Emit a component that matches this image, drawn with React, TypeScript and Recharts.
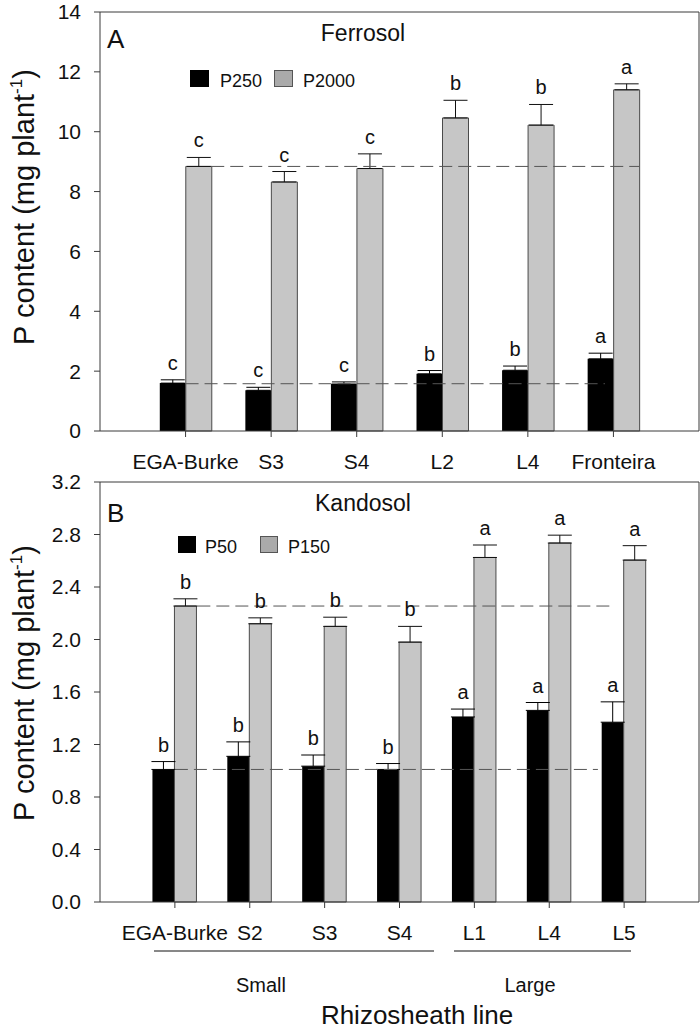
import React from 'react';
import { BarChart, Bar, XAxis, YAxis, ErrorBar, LabelList, ReferenceLine } from 'recharts';

const FONT = "'Liberation Sans', Arial, sans-serif";

// Panel A - Ferrosol
const ferrosolLines = ['EGA-Burke', 'S3', 'S4', 'L2', 'L4', 'Fronteira'];
const p250 = [1.6, 1.36, 1.57, 1.91, 2.03, 2.41];
const p250Err = [0.11, 0.1, 0.07, 0.11, 0.14, 0.19];
const p250Letters = ['c', 'c', 'c', 'b', 'b', 'a'];
const p2000 = [8.84, 8.32, 8.77, 10.46, 10.22, 11.4];
const p2000Err = [0.3, 0.35, 0.49, 0.59, 0.69, 0.2];
const p2000Letters = ['c', 'c', 'c', 'b', 'b', 'a'];
const ferrosolTicks = [0, 2, 4, 6, 8, 10, 12, 14];

// Panel B - Kandosol
const kandosolLines = ['EGA-Burke', 'S2', 'S3', 'S4', 'L1', 'L4', 'L5'];
const p50 = [1.01, 1.11, 1.035, 1.01, 1.41, 1.46, 1.37];
const p50Err = [0.06, 0.11, 0.085, 0.045, 0.06, 0.06, 0.155];
const p50Letters = ['b', 'b', 'b', 'b', 'a', 'a', 'a'];
const p150 = [2.255, 2.12, 2.1, 1.98, 2.625, 2.735, 2.605];
const p150Err = [0.055, 0.045, 0.07, 0.12, 0.095, 0.06, 0.11];
const p150Letters = ['b', 'b', 'b', 'b', 'a', 'a', 'a'];
const kandosolTicks = [0, 0.4, 0.8, 1.2, 1.6, 2.0, 2.4, 2.8, 3.2];

// dashed control lines (EGA-Burke level); x in category-position units
const ferrosolDashes = [
  { y: 8.84, from: 1.3, to: 6.3 },
  { y: 1.58, from: 1.0, to: 5.9 },
];
const kandosolDashes = [
  { y: 2.255, from: 1.3, to: 6.83 },
  { y: 1.01, from: 1.0, to: 6.65 },
];

const build = (lines: string[], low: number[], lowErr: number[], high: number[], highErr: number[]) =>
  lines.map((line, i) => ({
    pos: i + 1,
    line,
    low: low[i],
    lowErr: [0, lowErr[i]],
    high: high[i],
    highErr: [0, highErr[i]],
  }));

const ferrosolData = build(ferrosolLines, p250, p250Err, p2000, p2000Err);
const kandosolData = build(kandosolLines, p50, p50Err, p150, p150Err);

const letterLabel = (errs: number[], letters: string[]) => (props: any) => {
  const { x, y, width, height, value, index } = props;
  const v = Array.isArray(value) ? value[1] : Number(value);
  const perUnit = Number(height) / v;
  const top = Number(y) - errs[index] * perUnit;
  return (
    <text x={Number(x) + Number(width) / 2} y={top - 10} textAnchor="middle" fontSize={20} fontFamily={FONT} fill="#111">
      {letters[index]}
    </text>
  );
};

const axisStroke = '#3a3a3a';

function Panel({ data, lines, ticks, domainMax, barSize, dashes, lowErrs, highErrs, lowLetters, highLetters, fmt, xHeight, height, top }: any) {
  const n = lines.length;
  const xTicks = lines.map((_: string, i: number) => i + 1);
  return (
    <BarChart
      width={700}
      height={height}
      data={data}
      margin={{ top, right: 1, left: 0, bottom: 0 }}
      barGap={0}
      style={{ position: 'absolute', left: 0, top: 0 }}
    >
      <XAxis
        dataKey="pos"
        type="number"
        domain={[0, n + 1]}
        ticks={xTicks}
        interval={0}
        allowDataOverflow
        tickFormatter={(v: number) => lines[v - 1]}
        height={xHeight}
        tickSize={6}
        tickMargin={17}
        stroke={axisStroke}
        tick={{ fontSize: 21, fontFamily: FONT, fill: '#111' }}
      />
      <YAxis
        width={100}
        domain={[0, domainMax]}
        ticks={ticks}
        interval={0}
        tickSize={6}
        tickMargin={13}
        stroke={axisStroke}
        tickFormatter={fmt}
        tick={{ fontSize: 21, fontFamily: FONT, fill: '#111' }}
      />
      <ReferenceLine y={domainMax} stroke={axisStroke} />
      <ReferenceLine x={n + 1} stroke={axisStroke} />
      <Bar dataKey="low" fill="#000" barSize={barSize} isAnimationActive={false}>
        <ErrorBar dataKey="lowErr" width={12} stroke="#000" strokeWidth={1} direction="y" />
        <LabelList dataKey="low" content={letterLabel(lowErrs, lowLetters)} />
      </Bar>
      <Bar dataKey="high" fill="#c6c6c6" stroke="#4a4a4a" strokeWidth={1} barSize={barSize} isAnimationActive={false}>
        <ErrorBar dataKey="highErr" width={12} stroke="#111" strokeWidth={1} direction="y" />
        <LabelList dataKey="high" content={letterLabel(highErrs, highLetters)} />
      </Bar>
      {dashes.map((d: any, i: number) => (
        <ReferenceLine
          key={i}
          segment={[{ x: d.from, y: d.y }, { x: d.to, y: d.y }]}
          stroke="#555"
          strokeDasharray="13 6"
          ifOverflow="visible"
        />
      ))}
    </BarChart>
  );
}

function YLabel({ cy }: { cy: number }) {
  return (
    <text
      x={34}
      y={cy}
      transform={`rotate(-90 34 ${cy})`}
      textAnchor="middle"
      fontSize={29}
      fontFamily={FONT}
      fill="#111"
    >
      P content (mg plant
      <tspan fontSize={17} dy={-12}>-1</tspan>
      <tspan dy={12}>)</tspan>
    </text>
  );
}

export default function App() {
  return (
    <div style={{ position: 'absolute', left: 0, top: 0, width: 700, height: 1032, background: '#fff' }}>
      <div style={{ position: 'absolute', left: 0, top: 0, width: 700, height: 480 }}>
        <Panel
          data={ferrosolData}
          lines={ferrosolLines}
          ticks={ferrosolTicks}
          domainMax={14}
          barSize={26}
          dashes={ferrosolDashes}
          lowErrs={p250Err}
          highErrs={p2000Err}
          lowLetters={p250Letters}
          highLetters={p2000Letters}
          fmt={(v: number) => String(v)}
          xHeight={49}
          height={480}
          top={12}
        />
      </div>
      <div style={{ position: 'absolute', left: 0, top: 440, width: 700, height: 592 }}>
        <Panel
          data={kandosolData}
          lines={kandosolLines}
          ticks={kandosolTicks}
          domainMax={3.2}
          barSize={22}
          dashes={kandosolDashes}
          lowErrs={p50Err}
          highErrs={p150Err}
          lowLetters={p50Letters}
          highLetters={p150Letters}
          fmt={(v: number) => v.toFixed(1)}
          xHeight={130}
          height={592}
          top={42}
        />
      </div>
      <svg width={700} height={1032} style={{ position: 'absolute', left: 0, top: 0, pointerEvents: 'none' }}>
        <YLabel cy={207} />
        <YLabel cy={683} />
        <text x={363} y={41} textAnchor="middle" fontSize={23} fontFamily={FONT} fill="#111">Ferrosol</text>
        <text x={107} y={48} fontSize={26} fontFamily={FONT} fill="#111">A</text>
        <rect x={190} y={70} width={19} height={17} fill="#000" />
        <text x={220} y={87} fontSize={18} fontFamily={FONT} fill="#111">P250</text>
        <rect x={274.5} y={70.5} width={18} height={16} fill="#aaa" stroke="#555" />
        <text x={303} y={87} fontSize={18} fontFamily={FONT} fill="#111">P2000</text>

        <text x={363} y={511} textAnchor="middle" fontSize={23} fontFamily={FONT} fill="#111">Kandosol</text>
        <text x={107} y={522} fontSize={26} fontFamily={FONT} fill="#111">B</text>
        <rect x={178} y={536} width={18} height={17} fill="#000" />
        <text x={205} y={553} fontSize={18} fontFamily={FONT} fill="#111">P50</text>
        <rect x={260.5} y={536.5} width={17} height={16} fill="#aaa" stroke="#555" />
        <text x={288} y={553} fontSize={18} fontFamily={FONT} fill="#111">P150</text>

        <line x1={154} x2={434} y1={951} y2={951} stroke="#111" strokeWidth={1} />
        <line x1={454} x2={631} y1={951} y2={951} stroke="#111" strokeWidth={1} />
        <text x={261} y={992} textAnchor="middle" fontSize={20} fontFamily={FONT} fill="#111">Small</text>
        <text x={530} y={992} textAnchor="middle" fontSize={20} fontFamily={FONT} fill="#111">Large</text>
        <text x={417} y={1024} textAnchor="middle" fontSize={26} fontFamily={FONT} fill="#111">Rhizosheath line</text>
      </svg>
    </div>
  );
}
